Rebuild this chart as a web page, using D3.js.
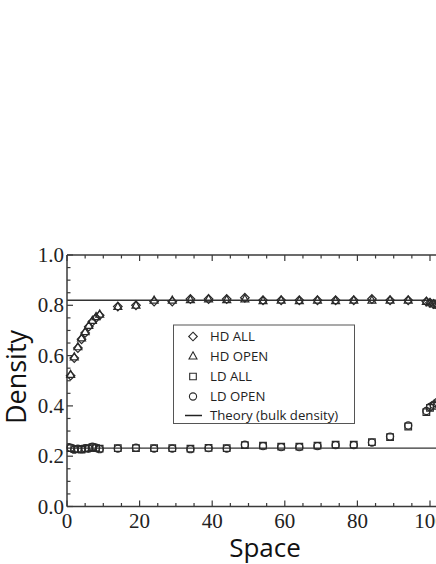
<!DOCTYPE html>
<html><head><meta charset="utf-8">
<script src="https://cdn.jsdelivr.net/npm/d3@7"></script>
<style>html,body{margin:0;padding:0;background:#fff;overflow:hidden}</style>
</head><body>
<script>
const xs = [1,2,3,4,5,6,7,8,9,14,19,24,29,34,39,44,49,54,59,64,69,74,79,84,89,94,99,100,101,102];
const hdAll  = [0.52,0.59,0.63,0.665,0.69,0.715,0.735,0.75,0.76,0.795,0.80,0.815,0.815,0.825,0.825,0.825,0.83,0.82,0.82,0.82,0.82,0.82,0.82,0.825,0.82,0.82,0.815,0.81,0.805,0.80];
const hdOpen = [0.525,0.595,0.635,0.67,0.695,0.72,0.74,0.755,0.765,0.795,0.80,0.82,0.82,0.822,0.825,0.822,0.825,0.818,0.82,0.818,0.82,0.818,0.82,0.82,0.82,0.82,0.815,0.81,0.805,0.80];
const ldAll  = [0.232,0.228,0.228,0.226,0.23,0.232,0.236,0.232,0.23,0.232,0.232,0.232,0.232,0.23,0.233,0.232,0.244,0.242,0.238,0.238,0.242,0.246,0.246,0.256,0.276,0.318,0.375,0.392,0.40,0.41];
const ldOpen = [0.234,0.226,0.23,0.228,0.232,0.23,0.238,0.234,0.228,0.23,0.234,0.23,0.23,0.228,0.232,0.23,0.246,0.24,0.236,0.236,0.24,0.244,0.244,0.254,0.278,0.322,0.38,0.396,0.405,0.415];
const theoryHD = 0.82;
const theoryLD = 0.232;
const xTicks = [0,20,40,60,80,100];
const yTicks = [0,0.2,0.4,0.6,0.8,1.0];
const legendLabels = ["HD ALL","HD OPEN","LD ALL","LD OPEN","Theory (bulk density)"];

const W=436,H=564;
const svg=d3.select("body").append("svg").attr("width",W).attr("height",H);
svg.append("rect").attr("width",W).attr("height",H).attr("fill","#fff");

const x=d3.scaleLinear().domain([0,110]).range([67,67+3.63*110]);
const y=d3.scaleLinear().domain([0,1]).range([506.5,255]);
const axisCol="#3a3a3a";

const x0=x(0), x1=x(110), y0=y(0), y1=y(1);
svg.append("line").attr("x1",x0).attr("x2",x1).attr("y1",y0).attr("y2",y0).attr("stroke",axisCol).attr("stroke-width",1.5);
svg.append("line").attr("x1",x0).attr("x2",x1).attr("y1",y1).attr("y2",y1).attr("stroke",axisCol).attr("stroke-width",1.5);
svg.append("line").attr("x1",x0).attr("x2",x0).attr("y1",y0).attr("y2",y1).attr("stroke",axisCol).attr("stroke-width",1.5);

d3.range(0,111,5).forEach(v=>{
  const L = v%20===0?6:3.5;
  svg.append("line").attr("x1",x(v)).attr("x2",x(v)).attr("y1",y0).attr("y2",y0-L).attr("stroke",axisCol).attr("stroke-width",1.2);
  svg.append("line").attr("x1",x(v)).attr("x2",x(v)).attr("y1",y1).attr("y2",y1+L).attr("stroke",axisCol).attr("stroke-width",1.2);
});
d3.range(0,1.0001,0.05).forEach(v=>{
  const major = Math.abs(v*5-Math.round(v*5))<1e-6;
  const L = major?6:3.5;
  svg.append("line").attr("x1",x0).attr("x2",x0+L).attr("y1",y(v)).attr("y2",y(v)).attr("stroke",axisCol).attr("stroke-width",1.2);
});

svg.append("g").selectAll("text").data(xTicks).join("text")
  .attr("x",d=>x(d)).attr("y",527.5).attr("text-anchor","middle")
  .attr("font-family","Liberation Serif, serif").attr("font-size",21).attr("fill","#222")
  .text(d=>d);
svg.append("g").selectAll("text").data(yTicks).join("text")
  .attr("x",64).attr("y",d=>y(d)+7).attr("text-anchor","end")
  .attr("font-family","Liberation Serif, serif").attr("font-size",21).attr("fill","#222")
  .text(d=>d.toFixed(1));

svg.append("text").attr("x",265).attr("y",557).attr("text-anchor","middle")
  .attr("font-family","Open Sans, sans-serif").attr("font-size",26).attr("fill","#111").text("Space");
svg.append("text").attr("transform","translate(26,377) rotate(-90)").attr("text-anchor","middle")
  .attr("font-family","Open Sans, sans-serif").attr("font-size",27).attr("fill","#111").text("Density");

[theoryHD,theoryLD].forEach(v=>{
  svg.append("line").attr("x1",x0).attr("x2",x1).attr("y1",y(v)).attr("y2",y(v)).attr("stroke","#333").attr("stroke-width",1.3);
});

const mk="#2a2a2a";
const shapes={
  diamond:r=>`M0,${-r}L${r},0L0,${r}L${-r},0Z`,
  triangle:r=>`M0,${-r}L${r*0.95},${r*0.7}L${-r*0.95},${r*0.7}Z`,
  square:r=>`M${-r},${-r}H${r}V${r}H${-r}Z`,
  circle:r=>`M${r},0A${r},${r} 0 1,1 ${-r},0A${r},${r} 0 1,1 ${r},0Z`
};
const series=[
  {vals:hdAll,shape:"diamond",r:4.3},
  {vals:hdOpen,shape:"triangle",r:4.2},
  {vals:ldAll,shape:"square",r:3.3},
  {vals:ldOpen,shape:"circle",r:3.6}
];
series.forEach(s=>{
  svg.append("g").selectAll("path").data(xs.map((xv,i)=>[xv,s.vals[i]])).join("path")
    .attr("d",shapes[s.shape](s.r))
    .attr("transform",d=>`translate(${x(d[0])},${y(d[1])})`)
    .attr("fill","none").attr("stroke",mk).attr("stroke-width",1.2);
});

const lg=svg.append("g");
lg.append("rect").attr("x",173.5).attr("y",325).attr("width",181).attr("height",98.5)
  .attr("fill","#fff").attr("stroke","#555").attr("stroke-width",1);
const rowY=[336.5,356,376.5,396.5,415.5];
legendLabels.forEach((t,i)=>{
  if(i<4){
    lg.append("path").attr("d",shapes[series[i].shape](series[i].r)).attr("transform",`translate(193,${rowY[i]})`)
      .attr("fill","none").attr("stroke",mk).attr("stroke-width",1.1);
  } else {
    lg.append("line").attr("x1",185).attr("x2",202).attr("y1",rowY[i]).attr("y2",rowY[i]).attr("stroke","#222").attr("stroke-width",1.5);
  }
  lg.append("text").attr("x",210).attr("y",rowY[i]+4.8).attr("font-family","Open Sans, sans-serif").attr("font-size",13.2).attr("fill","#222").text(t);
});
</script>
</body></html>
